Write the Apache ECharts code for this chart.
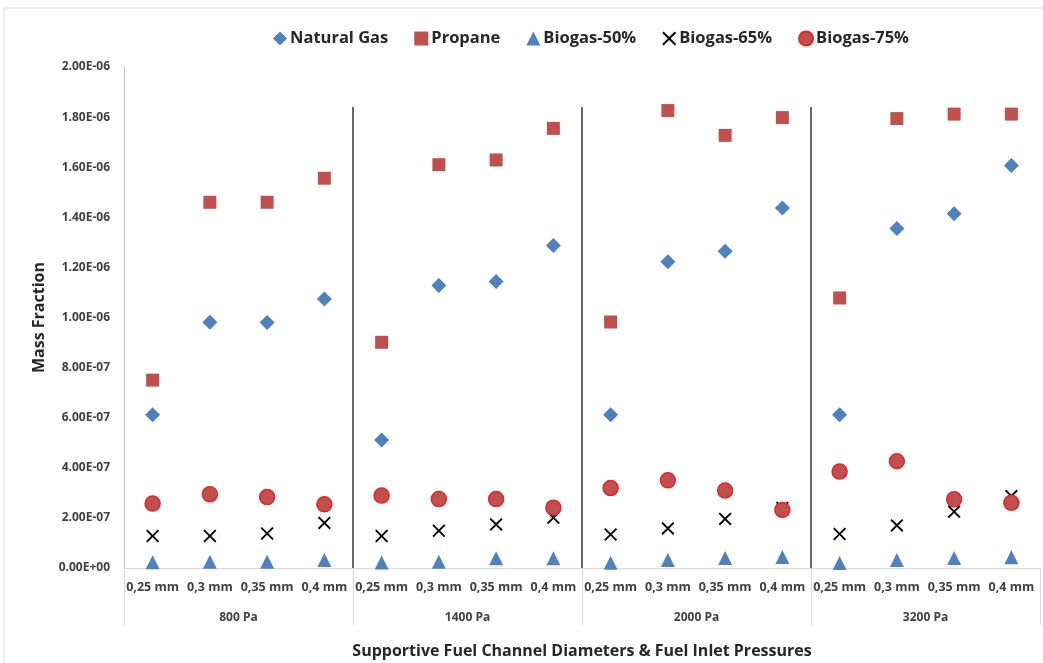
<!DOCTYPE html>
<html><head><meta charset="utf-8">
<script src="https://cdn.jsdelivr.net/npm/echarts@6/dist/echarts.min.js"></script>
<style>html,body{margin:0;padding:0;background:#fff;overflow:hidden}#c{width:1043px;height:663px}</style>
</head><body><div id="c"></div>
<script>
const diameters = ["0,25 mm","0,3 mm","0,35 mm","0,4 mm"];
const pressures = ["800 Pa","1400 Pa","2000 Pa","3200 Pa"];
const categories = [];
pressures.forEach(p => diameters.forEach(d => categories.push(d)));

const naturalGas = [6.12e-7, 9.81e-7, 9.80e-7, 1.074e-6,  5.11e-7, 1.128e-6, 1.144e-6, 1.287e-6,  6.12e-7, 1.223e-6, 1.264e-6, 1.437e-6,  6.12e-7, 1.355e-6, 1.414e-6, 1.607e-6];
const propane    = [7.50e-7, 1.46e-6, 1.46e-6, 1.556e-6,  9.01e-7, 1.61e-6, 1.629e-6, 1.755e-6,  9.82e-7, 1.826e-6, 1.727e-6, 1.798e-6,  1.078e-6, 1.794e-6, 1.812e-6, 1.812e-6];
const biogas50   = [2.3e-8, 2.5e-8, 2.5e-8, 3.2e-8,  2.2e-8, 2.5e-8, 3.9e-8, 3.9e-8,  2.1e-8, 3.2e-8, 4.0e-8, 4.4e-8,  2.0e-8, 3.2e-8, 4.0e-8, 4.3e-8];
const biogas65   = [1.28e-7, 1.28e-7, 1.38e-7, 1.80e-7,  1.28e-7, 1.49e-7, 1.74e-7, 2.01e-7,  1.34e-7, 1.58e-7, 1.96e-7, 2.40e-7,  1.36e-7, 1.70e-7, 2.25e-7, 2.87e-7];
const biogas75   = [2.57e-7, 2.94e-7, 2.83e-7, 2.54e-7,  2.89e-7, 2.75e-7, 2.75e-7, 2.41e-7,  3.19e-7, 3.50e-7, 3.09e-7, 2.32e-7,  3.85e-7, 4.26e-7, 2.74e-7, 2.60e-7];
const separatorPositions = [4, 8, 12];
const separatorTop = 1.84e-6;

const sepData = [];
separatorPositions.forEach(x => { sepData.push([x, 0], [x, separatorTop], '-'); });

function sci(v) {
  if (v === 0) return "0.00E+00";
  let s = v.toExponential(2).toUpperCase();
  const m = s.match(/^(.*)E([+-])(\d+)$/);
  let e = m[3].length < 2 ? "0" + m[3] : m[3];
  return m[1] + "E" + m[2] + e;
}

const FONT = "'Open Sans','Liberation Sans',Arial,sans-serif";
const xSym = 'path://M1,0 L5,4 L9,0 L10,1 L6,5 L10,9 L9,10 L5,6 L1,10 L0,9 L4,5 L0,1 Z';

const chart = echarts.init(document.getElementById('c'));
chart.setOption({
  animation: false,
  textStyle: { fontFamily: FONT },
  graphic: [{ type: 'rect', shape: { x: 4, y: 8, width: 1040, height: 660 }, style: { fill: 'none', stroke: '#D9D9D9', lineWidth: 1 }, silent: true }],
  legend: {
    top: 25, left: 268, itemGap: 26, itemWidth: 14, itemHeight: 14,
    data: ['Natural Gas','Propane','Biogas-50%','Biogas-65%','Biogas-75%'],
    textStyle: { fontFamily: FONT, fontSize: 16.5, fontWeight: 'bold', color: '#262626', padding: [0,0,0,-2] }
  },
  grid: { left: 124, right: 3, top: 67, bottom: 95, containLabel: false, outerBoundsMode: 'none' },
  xAxis: [
    { type: 'category', data: categories, gridIndex: 0, position: 'bottom',
      axisLine: { lineStyle: { color: '#D9D9D9' } }, axisTick: { show: false },
      axisLabel: { interval: 0, margin: 13, fontSize: 12.5, fontWeight: 'bold', color: '#404040', fontFamily: FONT } },
    { type: 'category', data: pressures, gridIndex: 0, position: 'bottom',
      axisLine: { show: false }, axisTick: { show: true, length: 57, lineStyle: { color: '#D9D9D9' } },
      axisLabel: { interval: 0, margin: 44, fontSize: 12, fontWeight: 'bold', color: '#404040', fontFamily: FONT },
      name: 'Supportive Fuel Channel Diameters & Fuel Inlet Pressures', nameLocation: 'middle', nameGap: 75,
      nameTextStyle: { fontSize: 16, fontWeight: 'bold', color: '#262626', fontFamily: FONT } },
    { type: 'value', min: 0, max: 16, show: false, gridIndex: 0 }
  ],
  yAxis: {
    type: 'value', min: 0, max: 2e-6, interval: 2e-7,
    axisLine: { show: true, lineStyle: { color: '#BFBFBF' } }, axisTick: { show: false }, splitLine: { show: false },
    axisLabel: { formatter: sci, margin: 14, fontSize: 12, fontWeight: 'bold', color: '#404040', fontFamily: FONT },
    name: 'Mass Fraction', nameLocation: 'middle', nameGap: 72,
    nameTextStyle: { fontSize: 16, fontWeight: 'bold', color: '#262626', fontFamily: FONT }
  },
  series: [
    { name: 'separators', type: 'line', xAxisIndex: 2, data: sepData, symbol: 'none', connectNulls: false,
      lineStyle: { color: '#000', width: 1.2 }, silent: true, z: 1 },
    { name: 'Natural Gas', type: 'scatter', data: naturalGas, symbol: 'diamond', symbolSize: 15,
      itemStyle: { color: '#4F81BD', opacity: 1 } },
    { name: 'Propane', type: 'scatter', data: propane, symbol: 'rect', symbolSize: 13,
      itemStyle: { color: '#C0504D', opacity: 1 } },
    { name: 'Biogas-50%', type: 'scatter', data: biogas50, symbol: 'triangle', symbolSize: 14,
      itemStyle: { color: '#4F81BD', opacity: 1 } },
    { name: 'Biogas-65%', type: 'scatter', data: biogas65, symbol: xSym, symbolSize: 13,
      itemStyle: { color: '#000', opacity: 1 } },
    { name: 'Biogas-75%', type: 'scatter', data: biogas75, symbol: 'circle', symbolSize: 15,
      itemStyle: { color: '#C0504D', borderColor: '#E0262B', borderWidth: 1.5, opacity: 1 } }
  ]
});
</script></body></html>
